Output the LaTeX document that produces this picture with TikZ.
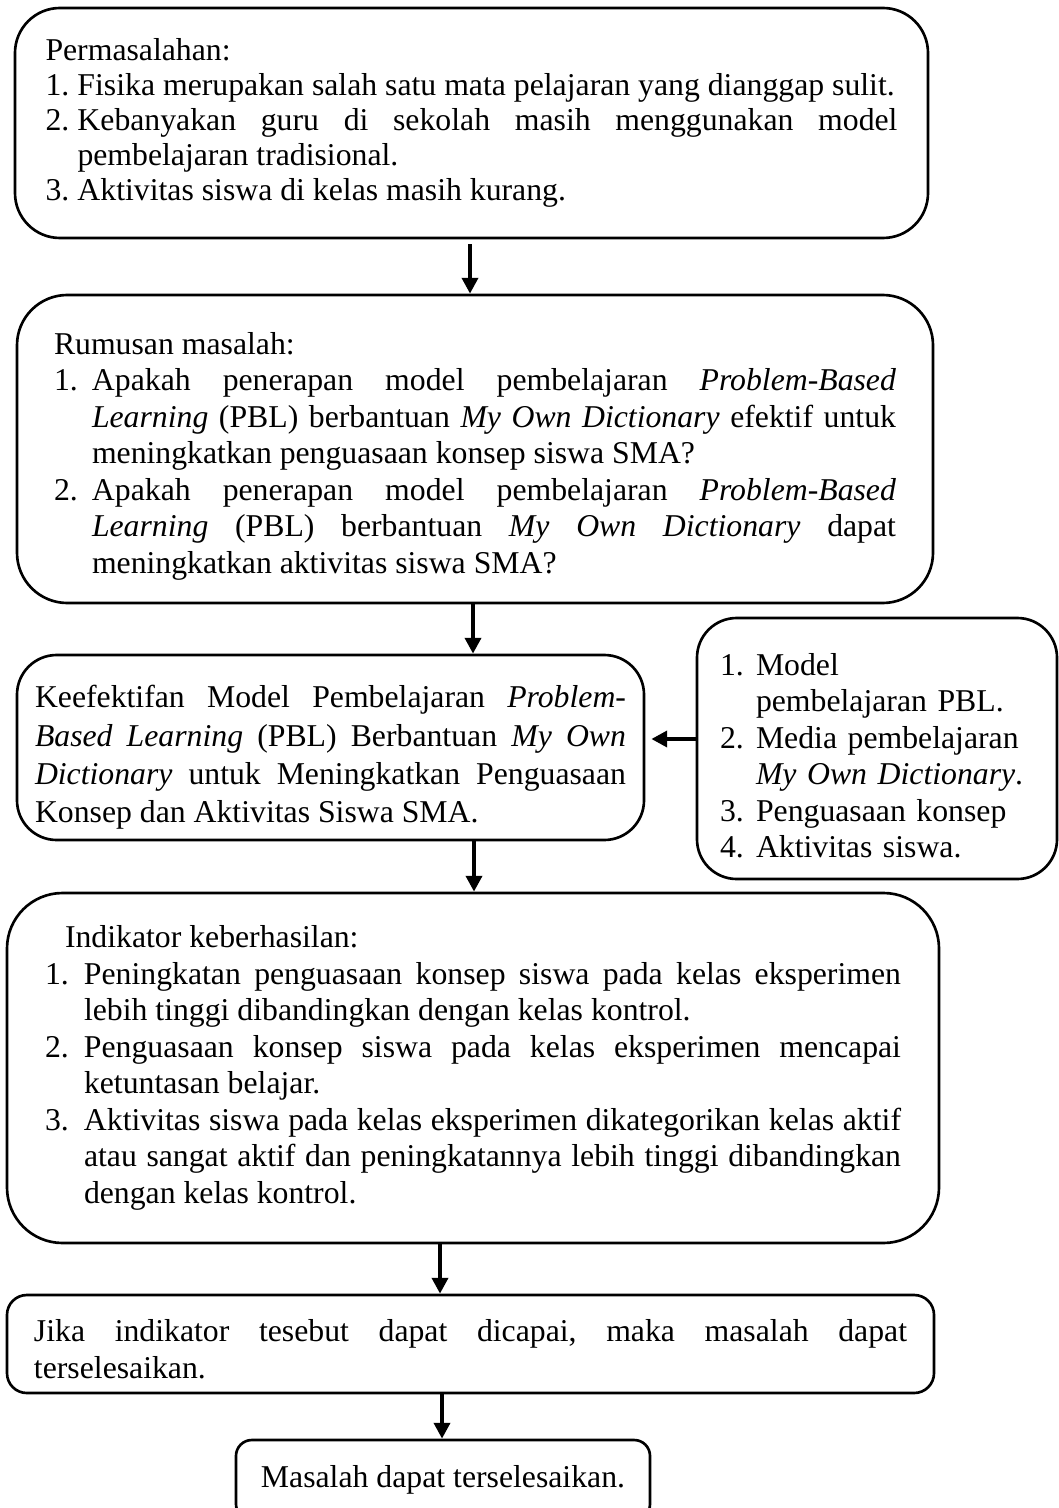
\documentclass[tikz,border=0pt]{standalone}
\usepackage{fontspec}
\setmainfont{Liberation Serif}
\usetikzlibrary{arrows.meta}

\newdimen\px \px=0.378pt
\hyphenpenalty=10000
\exhyphenpenalty=10000
\tolerance=9999
\frenchspacing
% numbered line with hanging indent
\newcommand{\butir}[3][12pt]{\par\hangindent=#1\hangafter=1\noindent\makebox[#1][l]{#2}#3\par}

\begin{document}
\begin{tikzpicture}[x=0.378pt,y=-0.378pt]
    \tikzstyle{every node}=[draw, line width=1pt, align=justify, font=\fontsize{12}{13.8}\selectfont];
    \tikzstyle{arr}=[line width=1.5pt, -{Triangle[width=6pt,length=6pt]}];
    \useasboundingbox (0,0) rectangle (1059,1508);

    \node[rounded corners=17pt, text width=852\px, inner xsep=30.5\px, minimum height=230\px,
          font=\fontsize{12}{13.2}\selectfont] (masalah) at (471.5,123) {%
      \noindent Permasalahan:
      \butir[32\px]{1.}{Fisika merupakan salah satu mata pelajaran yang dianggap sulit.}
      \butir[32\px]{2.}{Kebanyakan guru di sekolah masih menggunakan model \linebreak pembelajaran tradisional.}
      \butir[32\px]{3.}{Aktivitas siswa di kelas masih kurang.}};

    \node[rounded corners=19pt, text width=842\px, inner xsep=37\px, minimum height=308\px] (rumusan) at (475,449) {%
      \noindent\rule{0pt}{13.8pt}Rumusan masalah:
      \butir[38\px]{1.}{Apakah penerapan model pembelajaran \emph{Problem-Based} \linebreak \emph{Learning} (PBL) berbantuan \emph{My Own Dictionary} efektif untuk \linebreak meningkatkan penguasaan konsep siswa SMA?}
      \butir[38\px]{2.}{Apakah penerapan model pembelajaran \emph{Problem-Based} \linebreak \emph{Learning} (PBL) berbantuan \emph{My Own Dictionary} dapat \linebreak meningkatkan aktivitas siswa SMA?}};

    \node[rounded corners=15pt, text width=591\px, inner xsep=18\px, minimum height=185\px,
          font=\fontsize{12}{14.5}\selectfont] (judul) at (330.5,747.5) {%
      \noindent\rule{0pt}{16pt}Keefektifan Model Pembelajaran \emph{Problem-}\linebreak \emph{Based Learning} (PBL) Berbantuan \emph{My Own} \linebreak \emph{Dictionary} untuk Meningkatkan Penguasaan \linebreak Konsep dan Aktivitas Siswa SMA.};

    \node[rounded corners=15pt, text width=314\px, inner xsep=23\px, minimum height=261\px, align=left] (variabel) at (877,748.5) {%
      \butir[36\px]{1.}{Model\newline pembelajaran PBL.}
      \butir[36\px]{2.}{Media pembelajaran\newline \emph{My Own Dictionary}.}
      \butir[36\px]{3.}{Penguasaan konsep}
      \butir[36\px]{4.}{Aktivitas siswa.}};

    \node[rounded corners=21pt, text width=856\px, inner xsep=38\px, minimum height=350\px] (indikator) at (473,1068) {%
      \noindent\hspace*{20\px}Indikator keberhasilan:
      \butir[39\px]{1.}{Peningkatan penguasaan konsep siswa pada kelas eksperimen \linebreak lebih tinggi dibandingkan dengan kelas kontrol.}
      \butir[39\px]{2.}{Penguasaan konsep siswa pada kelas eksperimen mencapai \linebreak ketuntasan belajar.}
      \butir[39\px]{3.}{Aktivitas siswa pada kelas eksperimen dikategorikan kelas aktif \linebreak atau sangat aktif dan peningkatannya lebih tinggi dibandingkan \linebreak dengan kelas kontrol.}};

    \node[rounded corners=7.5pt, text width=873\px, inner xsep=27\px, minimum height=98\px,
          font=\fontsize{12}{14}\selectfont] (jika) at (470.5,1344) {%
      \noindent\rule{0pt}{12.3pt}Jika indikator tesebut dapat dicapai, maka masalah dapat \linebreak terselesaikan.};

    \node[rounded corners=6pt, minimum width=414\px, minimum height=80\px, align=center] (selesai) at (443,1480) {Masalah dapat terselesaikan.};

    % arrows
    \coordinate (p1) at (470,0);
    \coordinate (p2) at (473,0);
    \coordinate (p3) at (0,739);
    \coordinate (p4) at (474,0);
    \coordinate (p5) at (440,0);
    \coordinate (p6) at (442,0);
    \draw[arr, shorten <=5\px] (masalah.south -| p1) -- (rumusan.north -| p1);
    \draw[arr] (rumusan.south -| p2) -- (judul.north -| p2);
    \draw[arr, shorten >=6\px] (variabel.west |- p3) -- (judul.east |- p3);
    \draw[arr] (judul.south -| p4) -- (indikator.north -| p4);
    \draw[arr] (indikator.south -| p5) -- (jika.north -| p5);
    \draw[arr] (jika.south -| p6) -- (selesai.north -| p6);
  \end{tikzpicture}
\end{document}
